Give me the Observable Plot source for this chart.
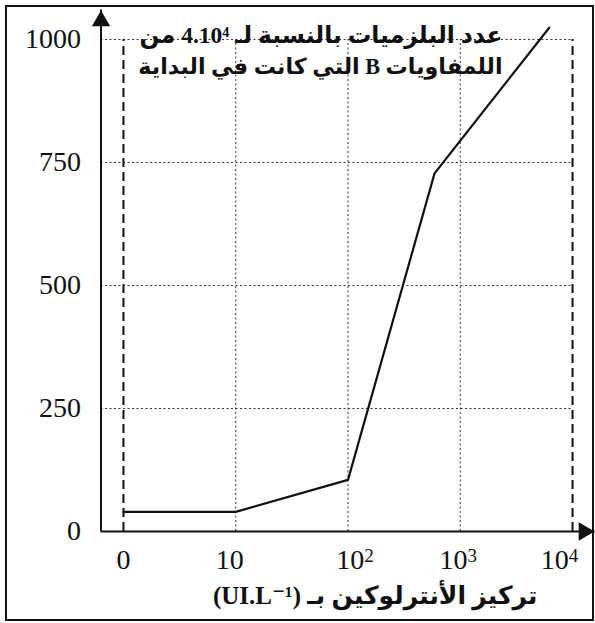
<!DOCTYPE html>
<html>
<head>
<meta charset="utf-8">
<script src="https://cdn.jsdelivr.net/npm/d3@7"></script>
<script src="https://cdn.jsdelivr.net/npm/@observablehq/plot@0.6"></script>
<style>
  html, body { margin: 0; padding: 0; background: #fff; }
  #wrap { position: relative; width: 595px; height: 623px; }
  #border { position: absolute; left: 5px; top: 5px; width: 585px; height: 612px; border: 2px solid #111; pointer-events: none; }
</style>
</head>
<body>
<div id="wrap"><div id="border"></div></div>
<script>
// ---- data ----
const concentration = [0, 10, 100, 590, 6200];      // UI.L-1
const plasmocytes   = [40, 40, 105, 728, 1024];       // number of plasmocytes
const xTickPos      = [0, 1, 2, 3, 4];
const xTickLabels   = ["0", "10", "10²", "10³", "10⁴"];
const yTicks        = [0, 250, 500, 750, 1000];
const titleLine1    = "عدد البلزميات بالنسبة لـ 4.10⁴ من";
const titleLine2    = "اللمفاويات B التي كانت في البداية";
const xTitle        = "تركيز الأنترلوكين بـ (UI.L⁻¹)";
const xDomain       = [-0.2, 4.2];
const yDomain       = [0, 1060];

// styling: small horizontal nudges of x tick labels as typeset in the reference
const xLabelNudge   = [0, -6, 7, -2, -13];

// axis position: 0 -> 0, otherwise log10
const pos = c => c === 0 ? 0 : Math.log10(c);
const series = concentration.map((c, i) => ({x: pos(c), y: plasmocytes[i]}));
const yMax = yTicks[yTicks.length - 1];
const xMax = xTickPos[xTickPos.length - 1];
const rtl = s => "\u202B" + s + "\u202C";

const grid = {stroke: "#333", strokeWidth: 1, strokeDasharray: "2,2.5"};
const dashed = {stroke: "#111", strokeWidth: 2, strokeDasharray: "9,5"};
const titleFont = {fontSize: 23.5, fontWeight: "bold", textAnchor: "end", lineAnchor: "middle"};

const chart = Plot.plot({
  width: 595,
  height: 623,
  marginLeft: 100.5,
  marginRight: 0.5,
  marginTop: 9.5,
  marginBottom: 92,
  x: {type: "linear", domain: xDomain, axis: null},
  y: {type: "linear", domain: yDomain, axis: null},
  style: {fontFamily: "'Liberation Serif', 'DejaVu Sans', serif", color: "#111", background: "transparent"},
  marks: [
    // horizontal dotted grid
    Plot.ruleY(yTicks.slice(1), {y: d => d, x1: xDomain[0], x2: xMax, ...grid}),
    // vertical dotted grid
    Plot.ruleX(xTickPos.slice(1, -1), {x: d => d, y1: 0, y2: yMax, ...grid}),
    // dashed bounds at 0 and 10^4
    Plot.ruleX([xTickPos[0], xMax], {x: d => d, y1: 0, y2: yMax, ...dashed}),
    // axes
    Plot.ruleX([xDomain[0]], {x: d => d, y1: 0, y2: yDomain[1], stroke: "#111", strokeWidth: 2}),
    Plot.ruleY([0], {y: d => d, x1: xDomain[0], x2: xDomain[1], stroke: "#111", strokeWidth: 2}),
    // arrow heads
    Plot.dot([{x: xDomain[0], y: yDomain[1]}], {x: "x", y: "y", symbol: "triangle", r: 6.8, fill: "#111", stroke: null, dy: 11}),
    Plot.dot([{x: xDomain[1], y: 0}], {x: "x", y: "y", symbol: "triangle", r: 6.8, fill: "#111", stroke: null, rotate: 90, dx: -11}),
    // data line
    Plot.line(series, {x: "x", y: "y", stroke: "#111", strokeWidth: 2.2}),
    // tick labels
    Plot.text(yTicks, {x: xDomain[0], y: d => d, text: d => String(d), dx: -20, textAnchor: "end", fontSize: 28}),
    Plot.text(xTickPos, {x: d => d, y: 0, text: (d, i) => xTickLabels[i], dy: 29, fontSize: 28}),
    // title (right-to-left)
    Plot.text([rtl(titleLine1)], {frameAnchor: "top-left", dx: 401.5, dy: 25.5, text: d => d, ...titleFont}),
    Plot.text([rtl(titleLine2)], {frameAnchor: "top-left", dx: 401.5, dy: 57, text: d => d, ...titleFont, fontSize: 22.2}),
    // x axis title
    Plot.text([rtl(xTitle)], {frameAnchor: "bottom-left", dx: 436.5, dy: 64, text: d => d, ...titleFont, fontSize: 25})
  ]
});

// render x tick labels: nudge, and raise the exponent of powers of ten
const sup = {"²": "2", "³": "3", "⁴": "4"};
d3.select(chart).selectAll("text").each(function() {
  const s = this.textContent;
  const idx = xTickLabels.indexOf(s);
  if (idx < 0) return;
  const t = d3.select(this).attr("dx", xLabelNudge[idx]);
  const m = /^10([²³⁴])$/.exec(s);
  if (!m) return;
  t.text(null);
  t.append("tspan").text("10");
  t.append("tspan").attr("dy", "-0.4em").attr("font-size", "0.68em").text(sup[m[1]]);
});

document.getElementById("wrap").insertBefore(chart, document.getElementById("border"));
</script>
</body>
</html>
